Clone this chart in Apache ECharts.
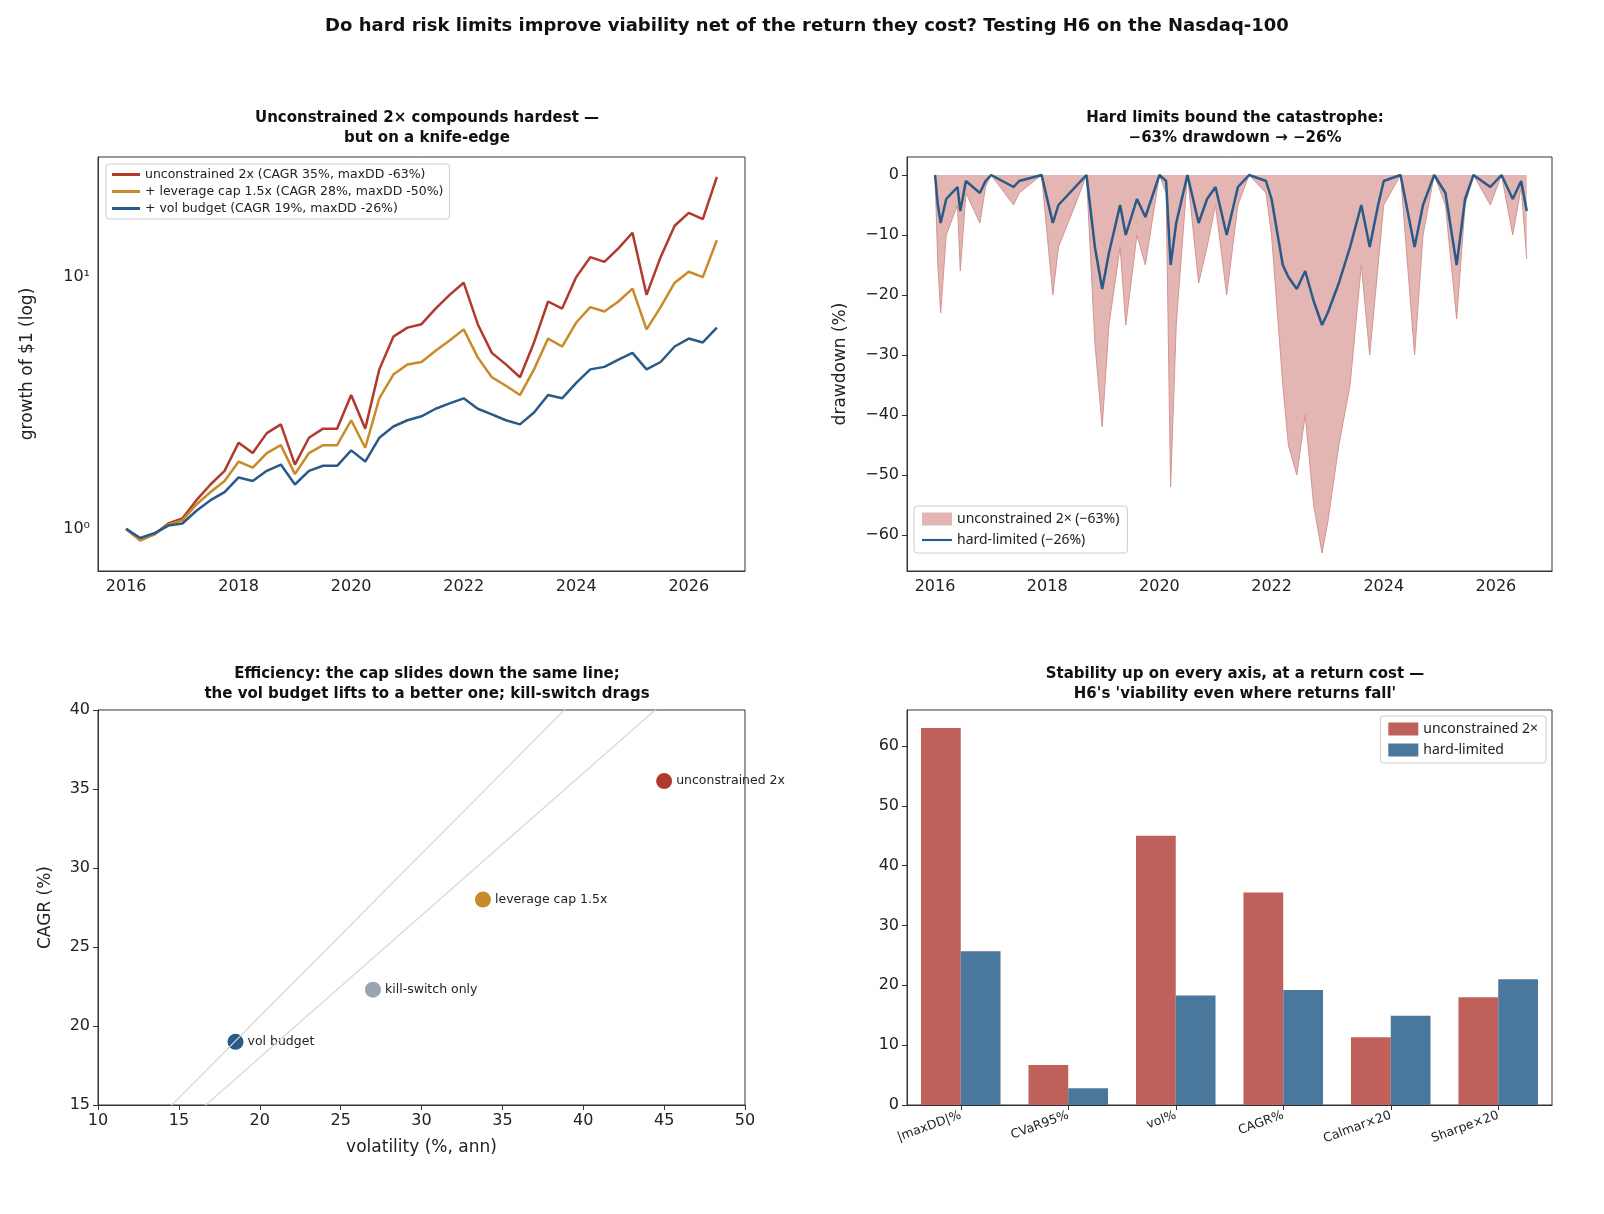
<!DOCTYPE html>
<html><head><meta charset="utf-8">
<script src="https://cdn.jsdelivr.net/npm/echarts@6/dist/echarts.min.js"></script>
<style>html,body{margin:0;padding:0;background:#fff}#c{width:1604px;height:1214px}</style>
</head><body><div id="c"></div>
<script>
const qDates=[2016,2016.25,2016.5,2016.75,2017,2017.25,2017.5,2017.75,2018,2018.25,2018.5,2018.75,2019,2019.25,2019.5,2019.75,2020,2020.25,2020.5,2020.75,2021,2021.25,2021.5,2021.75,2022,2022.25,2022.5,2022.75,2023,2023.25,2023.5,2023.75,2024,2024.25,2024.5,2024.75,2025,2025.25,2025.5,2025.75,2026,2026.25,2026.5];
const growthUnc=[1.0,0.9,0.95,1.05,1.1,1.3,1.5,1.7,2.2,2.0,2.4,2.6,1.8,2.3,2.5,2.5,3.4,2.5,4.3,5.8,6.3,6.5,7.5,8.5,9.5,6.5,5.0,4.5,4.0,5.5,8.0,7.5,10,12,11.5,13,15,8.5,12,16,18,17,25];
const growthCap=[1.0,0.9,0.95,1.04,1.08,1.25,1.4,1.55,1.85,1.75,2.0,2.15,1.65,2.0,2.15,2.15,2.7,2.1,3.3,4.1,4.5,4.6,5.1,5.6,6.2,4.8,4.0,3.7,3.4,4.3,5.7,5.3,6.6,7.6,7.3,8.0,9.0,6.2,7.6,9.5,10.5,10.0,14];
const growthVol=[1.0,0.92,0.96,1.03,1.05,1.18,1.3,1.4,1.6,1.55,1.7,1.8,1.5,1.7,1.78,1.78,2.05,1.85,2.3,2.55,2.7,2.8,3.0,3.15,3.3,3.0,2.85,2.7,2.6,2.9,3.4,3.3,3.8,4.3,4.4,4.7,5.0,4.3,4.6,5.3,5.7,5.5,6.3];
const ddDates=[2016,2016.05,2016.1,2016.2,2016.4,2016.45,2016.55,2016.8,2016.9,2017,2017.4,2017.5,2017.9,2018.1,2018.2,2018.5,2018.7,2018.85,2018.98,2019.1,2019.3,2019.4,2019.6,2019.75,2020,2020.12,2020.2,2020.3,2020.5,2020.7,2020.85,2021,2021.2,2021.4,2021.6,2021.9,2022,2022.2,2022.3,2022.45,2022.6,2022.75,2022.9,2023,2023.2,2023.4,2023.6,2023.75,2023.9,2024,2024.3,2024.55,2024.7,2024.9,2025.1,2025.3,2025.45,2025.6,2025.9,2026.1,2026.3,2026.45,2026.55];
const ddUnc=[0,-15,-23,-10,-5,-16,-3,-8,-2,0,-5,-3,0,-20,-12,-5,0,-28,-42,-25,-12,-25,-10,-15,0,-3,-52,-25,0,-18,-12,-5,-20,-5,0,-3,-10,-35,-45,-50,-40,-55,-63,-58,-45,-35,-15,-30,-15,-5,0,-30,-10,0,-5,-24,-5,0,-5,0,-10,-2,-14];
const ddHard=[0,-5,-8,-4,-2,-6,-1,-3,-1,0,-2,-1,0,-8,-5,-2,0,-12,-19,-13,-5,-10,-4,-7,0,-1,-15,-8,0,-8,-4,-2,-10,-2,0,-1,-4,-15,-17,-19,-16,-21,-25,-23,-18,-12,-5,-12,-5,-1,0,-12,-5,0,-3,-15,-4,0,-2,0,-4,-1,-6];
const scNames=['unconstrained 2x','leverage cap 1.5x','kill-switch only','vol budget'];
const scVol=[45,33.8,27,18.5];
const scCagr=[35.5,28,22.3,19];
const refSlopes=[1.03,0.9];
const barCats=['|maxDD|%','CVaR95%','vol%','CAGR%','Calmar×20','Sharpe×20'];
const barUnc=[63,6.7,45,35.5,11.3,18];
const barHard=[25.7,2.8,18.3,19.2,14.9,21];

const RED='#b03a2e',ORG='#c98a2a',BLU='#2a5a88',GRY='#9aa5b4';
const F='DejaVu Sans';
const pair=(xs,ys)=>xs.map((x,i)=>[x,ys[i]]);
const axBase={axisLine:{show:true,onZero:false,lineStyle:{color:'#333'}},axisTick:{show:true,inside:false,length:5,lineStyle:{color:'#333'}},axisLabel:{color:'#222',fontFamily:F,fontSize:16},splitLine:{show:false}};
const grids=[
 {left:98,top:157,width:647,height:414},
 {left:907,top:157,width:645,height:414},
 {left:98,top:710,width:647,height:395},
 {left:907,top:710,width:645,height:395}].map(g=>Object.assign(g,{show:true,borderColor:'#333',borderWidth:1,backgroundColor:'transparent'}));
const yrFmt=v=>(Math.abs(v-Math.round(v))<1e-6&&Math.round(v)%2===0)?String(Math.round(v)):'';
const subT=(t,x,y)=>({text:t,left:x,top:y,textAlign:'center',textStyle:{fontFamily:F,fontSize:15,fontWeight:'bold',color:'#111',lineHeight:20}});
const nameStyle={fontFamily:F,fontSize:17,color:'#222'};
const opt={
 animation:false,backgroundColor:'#fff',
 title:[
  {text:'Do hard risk limits improve viability net of the return they cost? Testing H6 on the Nasdaq-100',left:802,top:12,textAlign:'center',textStyle:{fontFamily:F,fontSize:18,fontWeight:'bold',color:'#111'}},
  subT('Unconstrained 2× compounds hardest —\nbut on a knife-edge',422,103),
  subT('Hard limits bound the catastrophe:\n−63% drawdown → −26%',1230,103),
  subT('Efficiency: the cap slides down the same line;\nthe vol budget lifts to a better one; kill-switch drags',422,659),
  subT("Stability up on every axis, at a return cost —\nH6's 'viability even where returns fall'",1230,659)
 ],
 grid:grids,
 xAxis:[
  Object.assign({},axBase,{gridIndex:0,type:'value',min:2015.5,max:2027,interval:0.5,axisTick:{show:false},axisLabel:Object.assign({},axBase.axisLabel,{formatter:yrFmt})}),
  Object.assign({},axBase,{gridIndex:1,type:'value',min:2015.5,max:2027,interval:0.5,axisTick:{show:false},axisLabel:Object.assign({},axBase.axisLabel,{formatter:yrFmt})}),
  Object.assign({},axBase,{gridIndex:2,type:'value',min:10,max:50,interval:5,name:'volatility (%, ann)',nameLocation:'middle',nameGap:34,nameTextStyle:nameStyle}),
  Object.assign({},axBase,{gridIndex:3,type:'category',data:barCats,axisTick:{show:true,alignWithLabel:true},axisLabel:Object.assign({},axBase.axisLabel,{fontSize:12.5,rotate:20,margin:10})})
 ],
 yAxis:[
  Object.assign({},axBase,{gridIndex:0,type:'log',logBase:10,min:0.68,max:30,axisTick:{show:false},name:'growth of $1 (log)',nameLocation:'middle',nameGap:62,nameTextStyle:nameStyle,axisLabel:Object.assign({},axBase.axisLabel,{formatter:v=>Math.abs(v-1)<1e-6?'10⁰':Math.abs(v-10)<1e-6?'10¹':''})}),
  Object.assign({},axBase,{gridIndex:1,type:'value',min:-66,max:3,name:'drawdown (%)',nameLocation:'middle',nameGap:58,nameTextStyle:nameStyle,axisLabel:Object.assign({},axBase.axisLabel,{showMinLabel:false,showMaxLabel:false,formatter:v=>String(v).replace('-','−')})}),
  Object.assign({},axBase,{gridIndex:2,type:'value',min:15,max:40,interval:5,name:'CAGR (%)',nameLocation:'middle',nameGap:44,nameTextStyle:nameStyle}),
  Object.assign({},axBase,{gridIndex:3,type:'value',min:0,max:66,interval:10,axisLabel:Object.assign({},axBase.axisLabel,{showMaxLabel:false})})
 ],
 legend:[
  {left:106,top:164,orient:'vertical',itemGap:4,itemWidth:28,itemHeight:3,icon:'rect',backgroundColor:'#fff',borderColor:'#ccc',borderWidth:1,borderRadius:3,padding:[4,6],textStyle:{fontFamily:F,fontSize:12.5,color:'#222'},data:['unconstrained 2x (CAGR 35%, maxDD -63%)','+ leverage cap 1.5x (CAGR 28%, maxDD -50%)','+ vol budget (CAGR 19%, maxDD -26%)']},
  {left:914,top:506,orient:'vertical',itemGap:7,itemWidth:30,itemHeight:13,backgroundColor:'#fff',borderColor:'#ccc',borderWidth:1,borderRadius:3,padding:[6,8],textStyle:{fontFamily:'Noto Sans',fontSize:14,color:'#222'},data:[{name:'unconstrained 2× (−63%)',icon:'rect'},{name:'hard-limited (−26%)',icon:'path://M0,5L28,5L28,7L0,7Z'}]},
  {right:58,top:716,orient:'vertical',itemGap:7,itemWidth:30,itemHeight:13,backgroundColor:'#fff',borderColor:'#ccc',borderWidth:1,borderRadius:3,padding:[6,8],textStyle:{fontFamily:'Noto Sans',fontSize:14,color:'#222'},data:[{name:'unconstrained 2×',icon:'rect'},{name:'hard-limited',icon:'rect'}]}
 ],
 series:[
  {name:'unconstrained 2x (CAGR 35%, maxDD -63%)',type:'line',xAxisIndex:0,yAxisIndex:0,showSymbol:false,data:pair(qDates,growthUnc),lineStyle:{color:RED,width:2.5},itemStyle:{color:RED}},
  {name:'+ leverage cap 1.5x (CAGR 28%, maxDD -50%)',type:'line',xAxisIndex:0,yAxisIndex:0,showSymbol:false,data:pair(qDates,growthCap),lineStyle:{color:ORG,width:2.5},itemStyle:{color:ORG}},
  {name:'+ vol budget (CAGR 19%, maxDD -26%)',type:'line',xAxisIndex:0,yAxisIndex:0,showSymbol:false,data:pair(qDates,growthVol),lineStyle:{color:BLU,width:2.5},itemStyle:{color:BLU}},
  {name:'unconstrained 2× (−63%)',type:'line',xAxisIndex:1,yAxisIndex:1,showSymbol:false,data:pair(ddDates,ddUnc),lineStyle:{color:'#d49591',width:1},areaStyle:{color:'#e3b5b3',opacity:1,origin:0},itemStyle:{color:'#e3b5b3',borderColor:'#d49591'}},
  {name:'hard-limited (−26%)',type:'line',xAxisIndex:1,yAxisIndex:1,showSymbol:false,data:pair(ddDates,ddHard),lineStyle:{color:BLU,width:2.5},itemStyle:{color:BLU}},
  ...refSlopes.map(s=>({type:'line',xAxisIndex:2,yAxisIndex:2,showSymbol:false,silent:true,data:[[0,0],[60,60*s]],lineStyle:{color:'#d5d5d5',width:1.2},clip:true})),
  {type:'scatter',xAxisIndex:2,yAxisIndex:2,symbolSize:16,data:scNames.map((n,i)=>({name:n,value:[scVol[i],scCagr[i]],itemStyle:{color:[RED,ORG,GRY,BLU][i],opacity:1}})),label:{show:true,position:'right',distance:4,formatter:p=>p.name,fontFamily:F,fontSize:12.5,color:'#222'}},
  {name:'unconstrained 2×',type:'bar',xAxisIndex:3,yAxisIndex:3,data:barUnc,barWidth:'37%',barGap:'0%',itemStyle:{color:'#bf615a'}},
  {name:'hard-limited',type:'bar',xAxisIndex:3,yAxisIndex:3,data:barHard,barWidth:'37%',itemStyle:{color:'#4a779c'}}
 ]
};
const ch=echarts.init(document.getElementById('c'));
ch.setOption(opt);
</script></body></html>
